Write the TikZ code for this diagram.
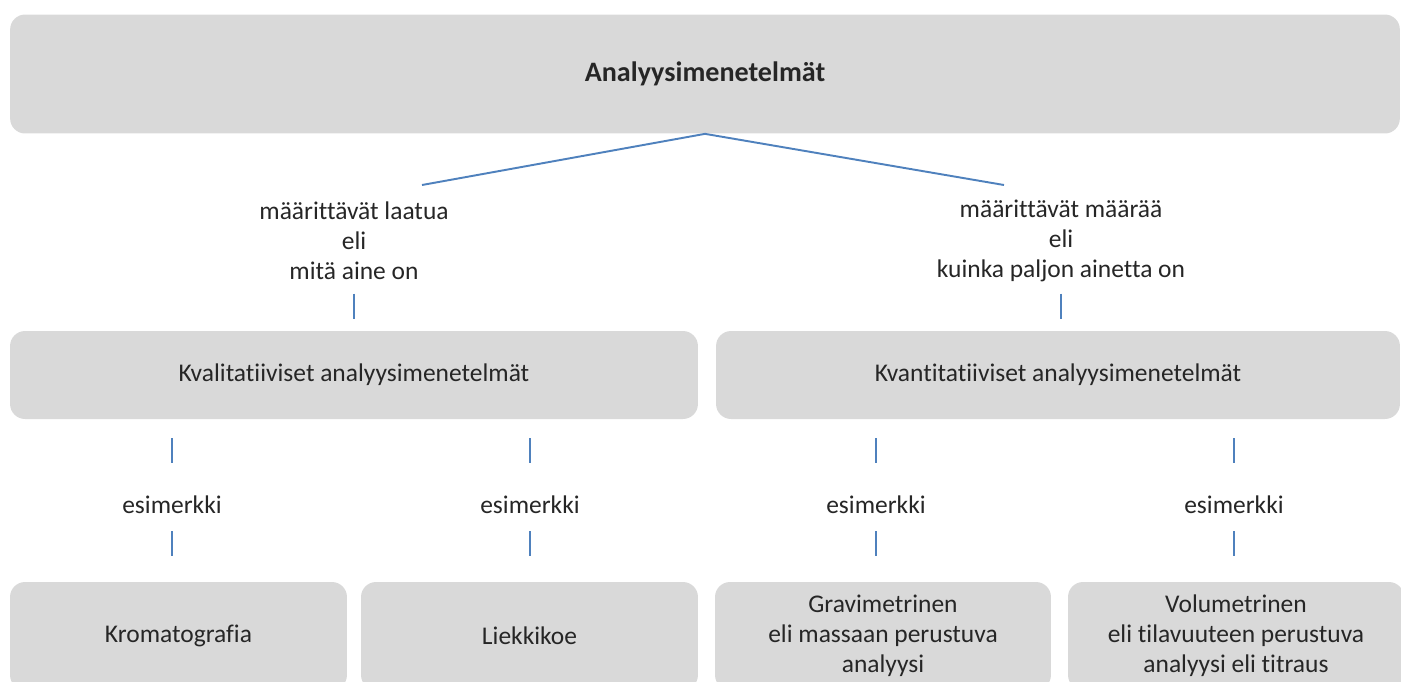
\documentclass[tikz,border=0pt]{standalone}
\usepackage{fontspec}
\setmainfont{Carlito}[Ligatures=NoCommon]
\usetikzlibrary{calc}
\definecolor{boxgray}{RGB}{217,217,217}
\definecolor{linkblue}{RGB}{79,129,189}
\definecolor{textgray}{RGB}{38,38,38}

\begin{document}
\begin{tikzpicture}[x=0.02cm,y=-0.02cm,
    box/.style={fill=boxgray, rounded corners=0.3cm, align=center, text=textgray,
        font=\fontsize{14.5}{17}\selectfont},
    caption/.style={align=center, text=textgray, inner sep=0pt,
        font=\fontsize{14.5}{17}\selectfont},
    link/.style={draw=linkblue, line width=1.1pt}]
    %% Background
    \useasboundingbox (0,0) rectangle (1401,681);
    \clip (0,0) rectangle (1401,681);
    %% Top
    \node[box, minimum width=27.8cm, minimum height=2.38cm,
        font=\fontsize{16}{19}\selectfont\bfseries] (top) at (705,74)
        {Analyysimenetelmät};
    %% Two kinds
    \node[caption] (qual) at (354,241) {määrittävät laatua\\eli\\mitä aine on};
    \node[caption] (quant) at (1061,241) {määrittävät määrää\\eli\\kuinka paljon ainetta on};
    \coordinate (qlend) at (422,185);
    \coordinate (qnend) at (1004,185);
    \draw[link] (qlend) -- (top.south) -- (qnend);
    \node[box, minimum width=13.76cm, minimum height=1.76cm] (kval) at (354,375)
        {Kvalitatiiviset analyysimenetelmät};
    \node[box, minimum width=13.68cm, minimum height=1.76cm] (kvan) at (1058,375)
        {Kvantitatiiviset analyysimenetelmät};
    \draw[link] ($(kval.north)+(0,-37)$) -- ($(kval.north)+(0,-12)$);
    \draw[link] ($(kvan.north)+(3,-37)$) -- ($(kvan.north)+(3,-12)$);
    %% Examples
    \foreach \x/\n in {172/1,530/2,876/3,1234/4}
    {
        \node[caption] (ex\n) at (\x,505) {esimerkki};
        \draw[link] ($(ex\n)+(0,-67)$) -- ($(ex\n)+(0,-42)$);
        \draw[link] ($(ex\n)+(0,26)$) -- ($(ex\n)+(0,51)$);
    }
    %% Methods
    \node[box, minimum width=6.74cm, minimum height=2.16cm] (krom) at (178.5,636) {Kromatografia};
    \node[box, minimum width=6.74cm, minimum height=2.16cm] (liek) at (529.5,636) {Liekkikoe};
    \node[box, minimum width=6.72cm, minimum height=2.16cm] (grav) at (883,636)
        {Gravimetrinen\\eli massaan perustuva\\analyysi};
    \node[box, minimum width=6.72cm, minimum height=2.16cm] (volu) at (1236,636)
        {Volumetrinen\\eli tilavuuteen perustuva\\analyysi eli titraus};
\end{tikzpicture}
\end{document}
